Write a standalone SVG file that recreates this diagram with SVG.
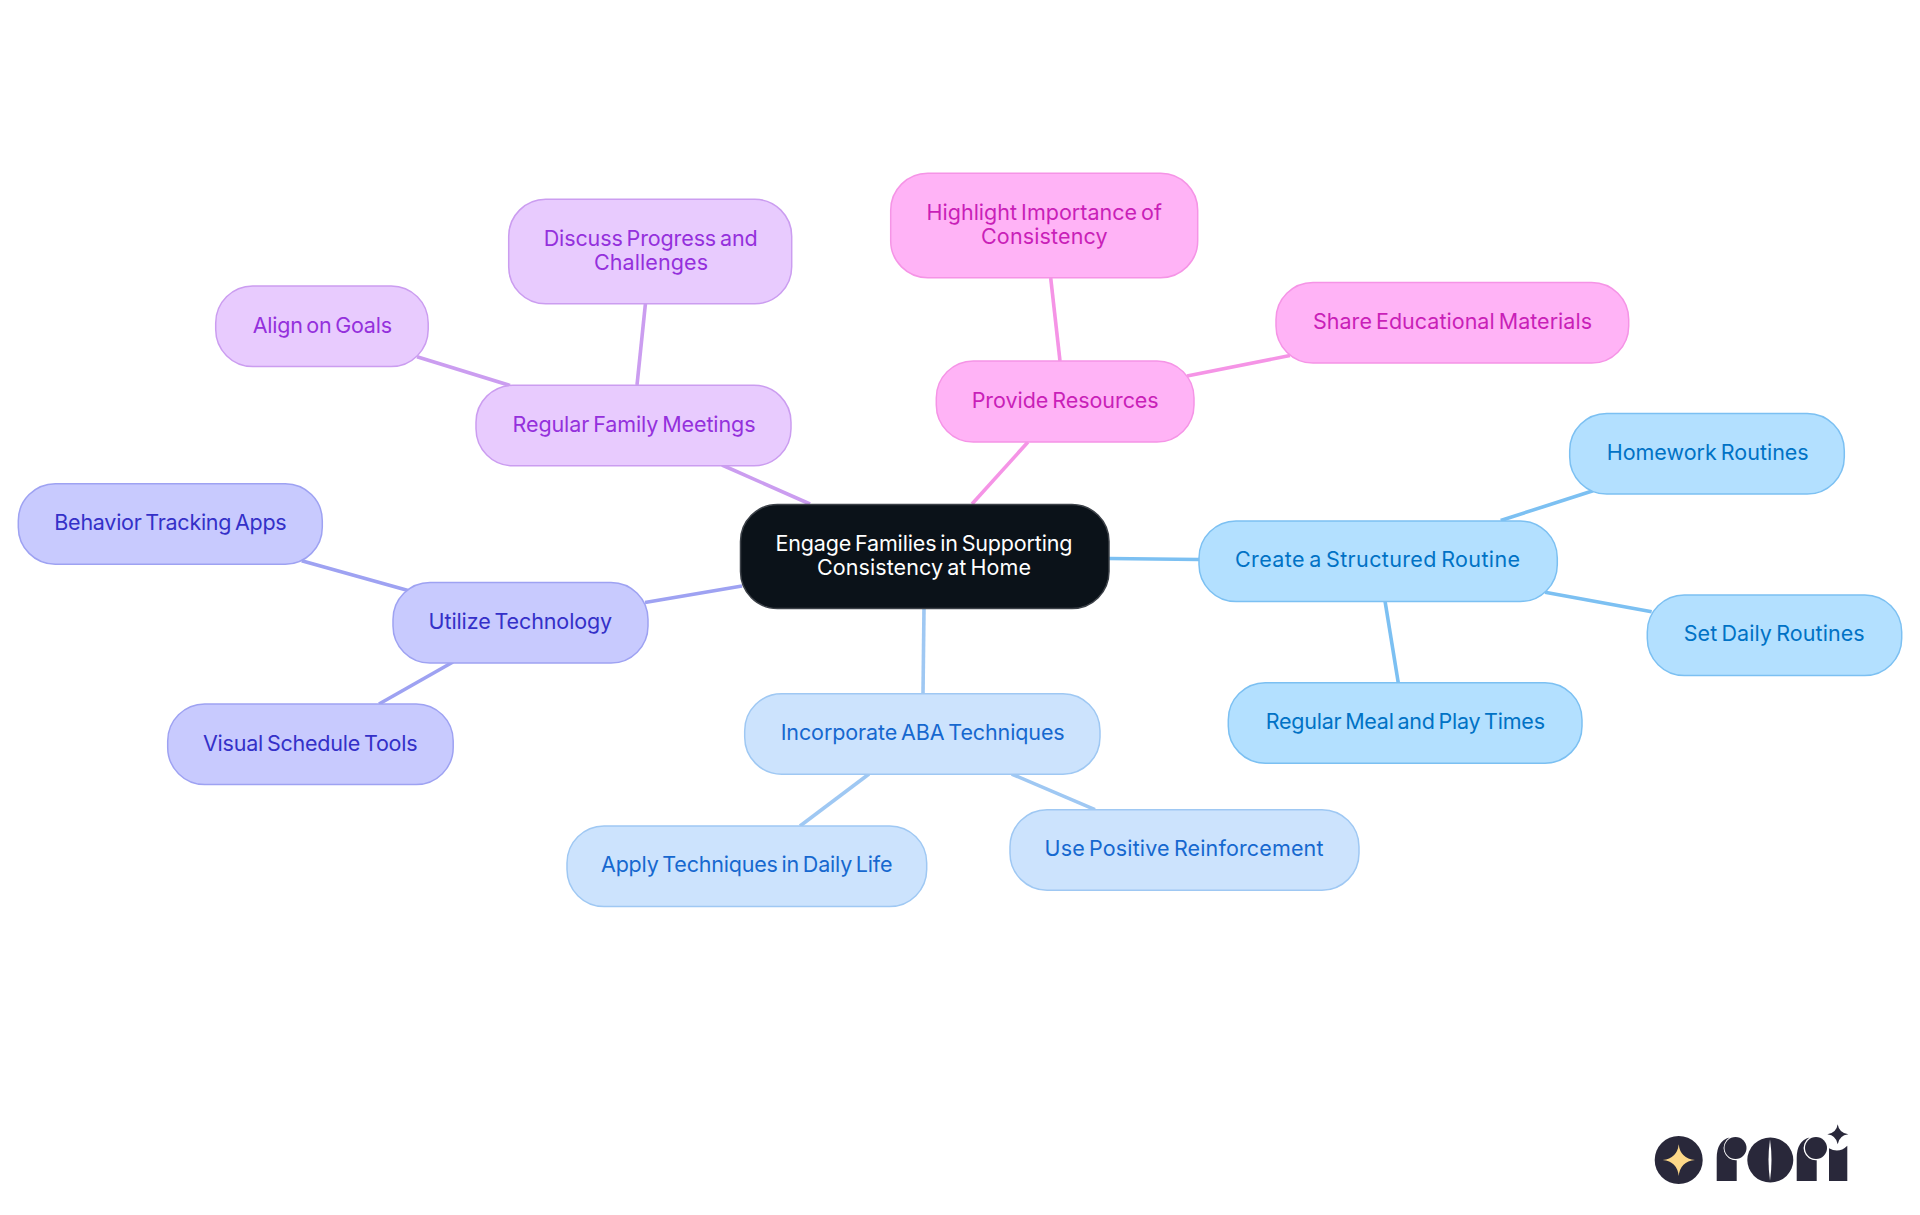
<svg xmlns="http://www.w3.org/2000/svg" width="1920" height="1215" viewBox="0 0 1920 1215">
<style>
text{font-family:"Inter","Noto Sans","Liberation Sans",sans-serif;font-size:21.5px;font-weight:400;word-spacing:-2px}
rect{stroke-width:1.5}
line{stroke-width:3.6;fill:none}
.root rect{fill:#0b1219;stroke:#3c4148}.root text{fill:#fff}
.sky rect{fill:#b3e0ff;stroke:#7cc0f2}.sky text{fill:#0072c5}.sky-l{stroke:#7cc0f2}
.blue rect{fill:#cce3fd;stroke:#9fc8f3}.blue text{fill:#1668cf}.blue-l{stroke:#9fc8f3}
.ind rect{fill:#c8cafe;stroke:#9ea2f2}.ind text{fill:#3430c8}.ind-l{stroke:#9ea2f2}
.pur rect{fill:#e8cbfe;stroke:#cb9df0}.pur text{fill:#9430dc}.pur-l{stroke:#cb9df0}
.pink rect{fill:#ffb3f6;stroke:#f594e6}.pink text{fill:#c91fb8}.pink-l{stroke:#f594e6}
.logo{fill:#29283a}
</style>
<rect width="1920" height="1215" fill="#ffffff" style="stroke:none"/>
<g id="connectors">
<line class="pink-l" x1="972" y1="504" x2="1028" y2="442"/>
<line class="pink-l" x1="1050.7" y1="278" x2="1060" y2="361"/>
<line class="pink-l" x1="1187" y1="376" x2="1290" y2="355.5"/>
<line class="pur-l" x1="722" y1="465" x2="810" y2="504"/>
<line class="pur-l" x1="417" y1="356.7" x2="510" y2="385.5"/>
<line class="pur-l" x1="645.5" y1="303" x2="637" y2="385"/>
<line class="ind-l" x1="645" y1="602.5" x2="742" y2="586"/>
<line class="ind-l" x1="301.7" y1="560.7" x2="409" y2="590.7"/>
<line class="ind-l" x1="379" y1="704" x2="453" y2="662"/>
<line class="blue-l" x1="924" y1="608" x2="923" y2="694"/>
<line class="blue-l" x1="869" y1="774" x2="800" y2="826"/>
<line class="blue-l" x1="1011.7" y1="774" x2="1095" y2="809.7"/>
<line class="sky-l" x1="1109" y1="558.5" x2="1199" y2="559.5"/>
<line class="sky-l" x1="1500.7" y1="520.5" x2="1593" y2="490.7"/>
<line class="sky-l" x1="1545" y1="592.3" x2="1651.7" y2="611.7"/>
<line class="sky-l" x1="1385" y1="601" x2="1398.3" y2="683"/>
</g>
<g id="root" class="root"><rect x="740.5" y="504.5" width="368.5" height="104" rx="37"/>
<text x="775.5" y="551" textLength="297">Engage Families in Supporting</text>
<text x="817" y="575" textLength="214">Consistency at Home</text></g>
<g id="structured" class="sky"><rect x="1199" y="521" width="358.3" height="80.5" rx="37"/><text x="1235" y="566.7" textLength="285">Create a Structured Routine</text></g>
<g id="homework" class="sky"><rect x="1569.7" y="413.5" width="274.6" height="80.5" rx="37"/><text x="1606.7" y="460" textLength="202">Homework Routines</text></g>
<g id="setdaily" class="sky"><rect x="1647.3" y="595" width="254.4" height="80.5" rx="37"/><text x="1683.7" y="640.7" textLength="181">Set Daily Routines</text></g>
<g id="meal" class="sky"><rect x="1228.3" y="682.7" width="353.7" height="80.5" rx="37"/><text x="1265.7" y="728.5" textLength="279.3">Regular Meal and Play Times</text></g>
<g id="aba" class="blue"><rect x="744.7" y="693.7" width="355.3" height="80.5" rx="37"/><text x="780.7" y="740" textLength="284">Incorporate ABA Techniques</text></g>
<g id="apply" class="blue"><rect x="567" y="826" width="359.7" height="80.5" rx="37"/><text x="601" y="872" textLength="291.5">Apply Techniques in Daily Life</text></g>
<g id="positive" class="blue"><rect x="1010" y="809.7" width="349" height="80.5" rx="37"/><text x="1044.5" y="856" textLength="279">Use Positive Reinforcement</text></g>
<g id="technology" class="ind"><rect x="393" y="582.5" width="255" height="80.5" rx="37"/><text x="428.6" y="629" textLength="183.6">Utilize Technology</text></g>
<g id="behavior" class="ind"><rect x="18.3" y="483.7" width="304" height="80.5" rx="37"/><text x="54.3" y="530" textLength="232.4">Behavior Tracking Apps</text></g>
<g id="visual" class="ind"><rect x="167.7" y="704" width="285.5" height="80.5" rx="37"/><text x="203" y="751" textLength="214.6">Visual Schedule Tools</text></g>
<g id="meetings" class="pur"><rect x="476" y="385.3" width="315" height="80.5" rx="37"/><text x="512.5" y="432" textLength="243">Regular Family Meetings</text></g>
<g id="align" class="pur"><rect x="215.7" y="286" width="212.5" height="80.5" rx="37"/><text x="252.7" y="332.7" textLength="139.3">Align on Goals</text></g>
<g id="discuss" class="pur"><rect x="508.7" y="199.3" width="283" height="104.5" rx="37"/><text x="543.7" y="246" textLength="214">Discuss Progress and</text><text x="594" y="270" textLength="114">Challenges</text></g>
<g id="resources" class="pink"><rect x="936.3" y="361" width="257.7" height="81" rx="37"/><text x="971.7" y="408" textLength="187">Provide Resources</text></g>
<g id="highlight" class="pink"><rect x="890.7" y="173.3" width="307" height="104.4" rx="37"/><text x="926.5" y="220" textLength="235.5">Highlight Importance of</text><text x="981" y="244" textLength="126.7">Consistency</text></g>
<g id="share" class="pink"><rect x="1276" y="282.5" width="352.7" height="80.5" rx="37"/><text x="1313" y="329" textLength="279">Share Educational Materials</text></g>
<g id="logo">
<circle class="logo" cx="1678.7" cy="1160" r="24"/>
<path fill="#fdd888" d="M1678.7 1144.3Q1680.2 1158.5 1695 1160Q1680.2 1161.5 1678.7 1176Q1677.2 1161.5 1662.7 1160Q1677.2 1158.5 1678.7 1144.3Z"/>
<path class="logo" d="M1716.7 1181V1158Q1716.7 1141 1729.5 1137.6A12.2 12.2 0 0 0 1736.7 1160.2V1181Z"/>
<circle class="logo" cx="1735.5" cy="1148" r="11"/>
<ellipse class="logo" cx="1770.3" cy="1160" rx="23" ry="22.5"/>
<path fill="#fff" d="M1770 1139.5Q1767 1160 1770 1180.5Q1773 1160 1770 1139.5Z"/>
<path class="logo" d="M1796.7 1181V1158Q1796.7 1141 1809.5 1137.6A12.2 12.2 0 0 0 1816.7 1160.2V1181Z"/>
<circle class="logo" cx="1816" cy="1148" r="11"/>
<path class="logo" d="M1829 1181V1148.3Q1839 1154 1847.3 1145.7V1181Z"/>
<path class="logo" d="M1837.7 1124.3Q1839 1133 1848.3 1134.3Q1839 1135.6 1837.7 1144.3Q1836.4 1135.6 1827.3 1134.3Q1836.4 1133 1837.7 1124.3Z"/>
</g>
</svg>
